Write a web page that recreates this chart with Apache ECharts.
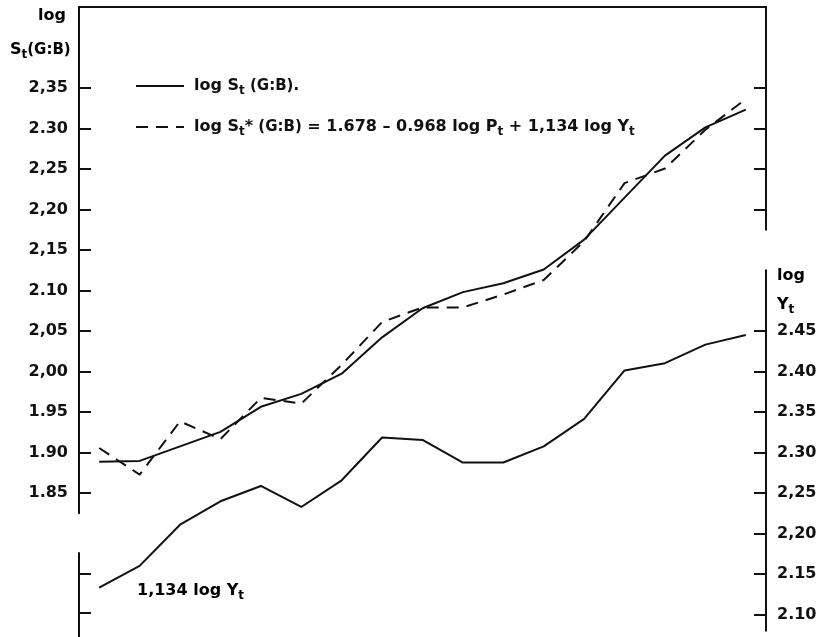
<!DOCTYPE html>
<html>
<head>
<meta charset="utf-8">
<script src="https://cdn.jsdelivr.net/npm/echarts@6/dist/echarts.min.js"></script>
<style>
  html, body { margin: 0; padding: 0; background: #fff; }
  #chart { width: 827px; height: 637px; }
</style>
</head>
<body>
<div id="chart"></div>
<script>
// Observation periods t
const periods = ['1', '2', '3', '4', '5', '6', '7', '8', '9', '10', '11', '12', '13', '14', '15', '16', '17'];

// log S_t(G:B), observed
const logS = [1.887, 1.888, 1.906, 1.924, 1.955, 1.971, 1.996, 2.041, 2.077, 2.097, 2.108, 2.125, 2.162, 2.214, 2.266, 2.301, 2.323];

// log S_t*(G:B), fitted from the demand equation
const logSFit = [1.904, 1.871, 1.937, 1.915, 1.966, 1.959, 2.007, 2.060, 2.078, 2.078, 2.094, 2.112, 2.160, 2.232, 2.250, 2.298, 2.336];

// 1,134 log Y_t, read on the right-hand scale
const incomeTerm = [2.131, 2.158, 2.209, 2.238, 2.257, 2.231, 2.264, 2.317, 2.314, 2.286, 2.286, 2.306, 2.340, 2.400, 2.409, 2.432, 2.444];

// Left scale ticks and labels (upper piece), plus the short lower piece
const leftTicks = [1.85, 1.90, 1.95, 2.00, 2.05, 2.10, 2.15, 2.20, 2.25, 2.30, 2.35];
const leftTickLabels = ['1.85', '1.90', '1.95', '2,00', '2,05', '2.10', '2,15', '2,20', '2,25', '2.30', '2,35'];
const leftLowerTicks = [1.70, 1.75];

// Right scale ticks and labels (lower piece), plus the short upper piece
const rightTicks = [2.10, 2.15, 2.20, 2.25, 2.30, 2.35, 2.40, 2.45];
const rightTickLabels = ['2.10', '2.15', '2,20', '2,25', '2.30', '2.35', '2.40', '2.45'];
const rightUpperTicks = [2.60, 2.65, 2.70, 2.75];

// Both scales share one vertical unit; the right one sits 0.40 above the left
const PX = 810;
const TOP = 7;
const LEFT_MAX = 2.45;
const RIGHT_MAX = 2.85;
const GRID_LEFT = 79;
const GRID_RIGHT = 61;

function band(lo, hi, maxAtTop) {
  return { left: GRID_LEFT, right: GRID_RIGHT, top: TOP + (maxAtTop - hi) * PX, height: (hi - lo) * PX };
}

const INK = '#111';
const FONT = 'DejaVu Sans';

function pickLabel(ticks, labels) {
  return function (v) {
    for (let i = 0; i < ticks.length; i++) {
      if (Math.abs(ticks[i] - v) < 1e-6) return labels[i];
    }
    return '';
  };
}

function segmentAxis(gridIndex, position, min, max, ticks, labelFn) {
  return {
    type: 'value', gridIndex, position, min, max,
    splitLine: { show: false },
    axisLine: { show: true, lineStyle: { color: INK, width: 2 } },
    axisTick: { show: true, inside: true, length: 12, customValues: ticks, lineStyle: { color: INK, width: 2 } },
    axisLabel: labelFn
      ? { show: true, customValues: ticks, formatter: labelFn, margin: 11, color: INK, fontFamily: FONT, fontWeight: 'bold', fontSize: 16 }
      : { show: false }
  };
}

const hiddenX = (gridIndex) => ({ type: 'category', gridIndex, data: periods, show: false });

const rich = {
  n: { fontFamily: FONT, fontWeight: 'bold', fontSize: 16, color: INK, lineHeight: 20 },
  s: { fontFamily: FONT, fontWeight: 'bold', fontSize: 12, color: INK, lineHeight: 20, padding: [10, 0, 0, 0] },
  m: { fontFamily: FONT, fontWeight: 'bold', fontSize: 15, color: INK, lineHeight: 20 }
};

const legendText = {
  'observed': '{n|log S}{s|t}{m| (G:B).}',
  'fitted': '{n|log S}{s|t}{n|*}{m| (G:B)}{n| = 1.678 \u2013 0.968 log P}{s|t}{n| + 1,134 log Y}{s|t}'
};

const chart = echarts.init(document.getElementById('chart'), null, { renderer: 'canvas' });

chart.setOption({
  backgroundColor: '#fff',
  animation: false,
  grid: [
    band(1.67, LEFT_MAX, LEFT_MAX),       // plotting area
    band(1.825, LEFT_MAX, LEFT_MAX),      // left axis, upper piece
    band(1.67, 1.776, LEFT_MAX),          // left axis, lower piece
    band(2.575, RIGHT_MAX, RIGHT_MAX),    // right axis, upper piece
    band(2.08, 2.525, RIGHT_MAX)          // right axis, lower piece
  ],
  xAxis: [
    {
      type: 'category', gridIndex: 0, data: periods, position: 'top',
      axisLine: { show: true, lineStyle: { color: INK, width: 2 } },
      axisTick: { show: false }, axisLabel: { show: false }, splitLine: { show: false }
    },
    hiddenX(1), hiddenX(2), hiddenX(3), hiddenX(4)
  ],
  yAxis: [
    { type: 'value', gridIndex: 0, min: 1.67, max: LEFT_MAX, show: false },
    { type: 'value', gridIndex: 0, min: RIGHT_MAX - (LEFT_MAX - 1.67), max: RIGHT_MAX, show: false },
    segmentAxis(1, 'left', 1.825, LEFT_MAX, leftTicks, pickLabel(leftTicks, leftTickLabels)),
    segmentAxis(2, 'left', 1.67, 1.776, leftLowerTicks, null),
    segmentAxis(3, 'right', 2.575, RIGHT_MAX, rightUpperTicks, null),
    segmentAxis(4, 'right', 2.08, 2.525, rightTicks, pickLabel(rightTicks, rightTickLabels))
  ],
  legend: {
    data: ['observed', 'fitted'],
    orient: 'vertical',
    left: 135, top: 75, padding: 0,
    itemWidth: 48, itemHeight: 14, itemGap: 19,
    itemStyle: { opacity: 0 },
    lineStyle: { width: 2, color: INK },
    formatter: (name) => legendText[name],
    textStyle: { rich, padding: [0, 0, 0, 5] }
  },
  graphic: [
    { type: 'text', left: 38, top: 8, style: { text: '{n|log}', rich } },
    { type: 'text', left: 10, top: 39, style: { text: '{n|S}{s|t}{m|(G:B)}', rich } },
    { type: 'text', left: 777, top: 268, style: { text: '{n|log}', rich } },
    { type: 'text', left: 777, top: 294, style: { text: '{n|Y}{s|t}', rich } },
    { type: 'text', left: 137, top: 580, style: { text: '{n|1,134 log Y}{s|t}', rich } }
  ],
  series: [
    {
      name: 'observed', type: 'line', xAxisIndex: 0, yAxisIndex: 0, data: logS,
      symbol: 'none', lineStyle: { color: INK, width: 2 }, itemStyle: { color: INK }
    },
    {
      name: 'fitted', type: 'line', xAxisIndex: 0, yAxisIndex: 0, data: logSFit,
      symbol: 'none', lineStyle: { color: INK, width: 2, type: [12, 8] }, itemStyle: { color: INK }
    },
    {
      name: 'income', type: 'line', xAxisIndex: 0, yAxisIndex: 1, data: incomeTerm,
      symbol: 'none', lineStyle: { color: INK, width: 2 }, itemStyle: { color: INK }
    }
  ]
});
</script>
</body>
</html>
